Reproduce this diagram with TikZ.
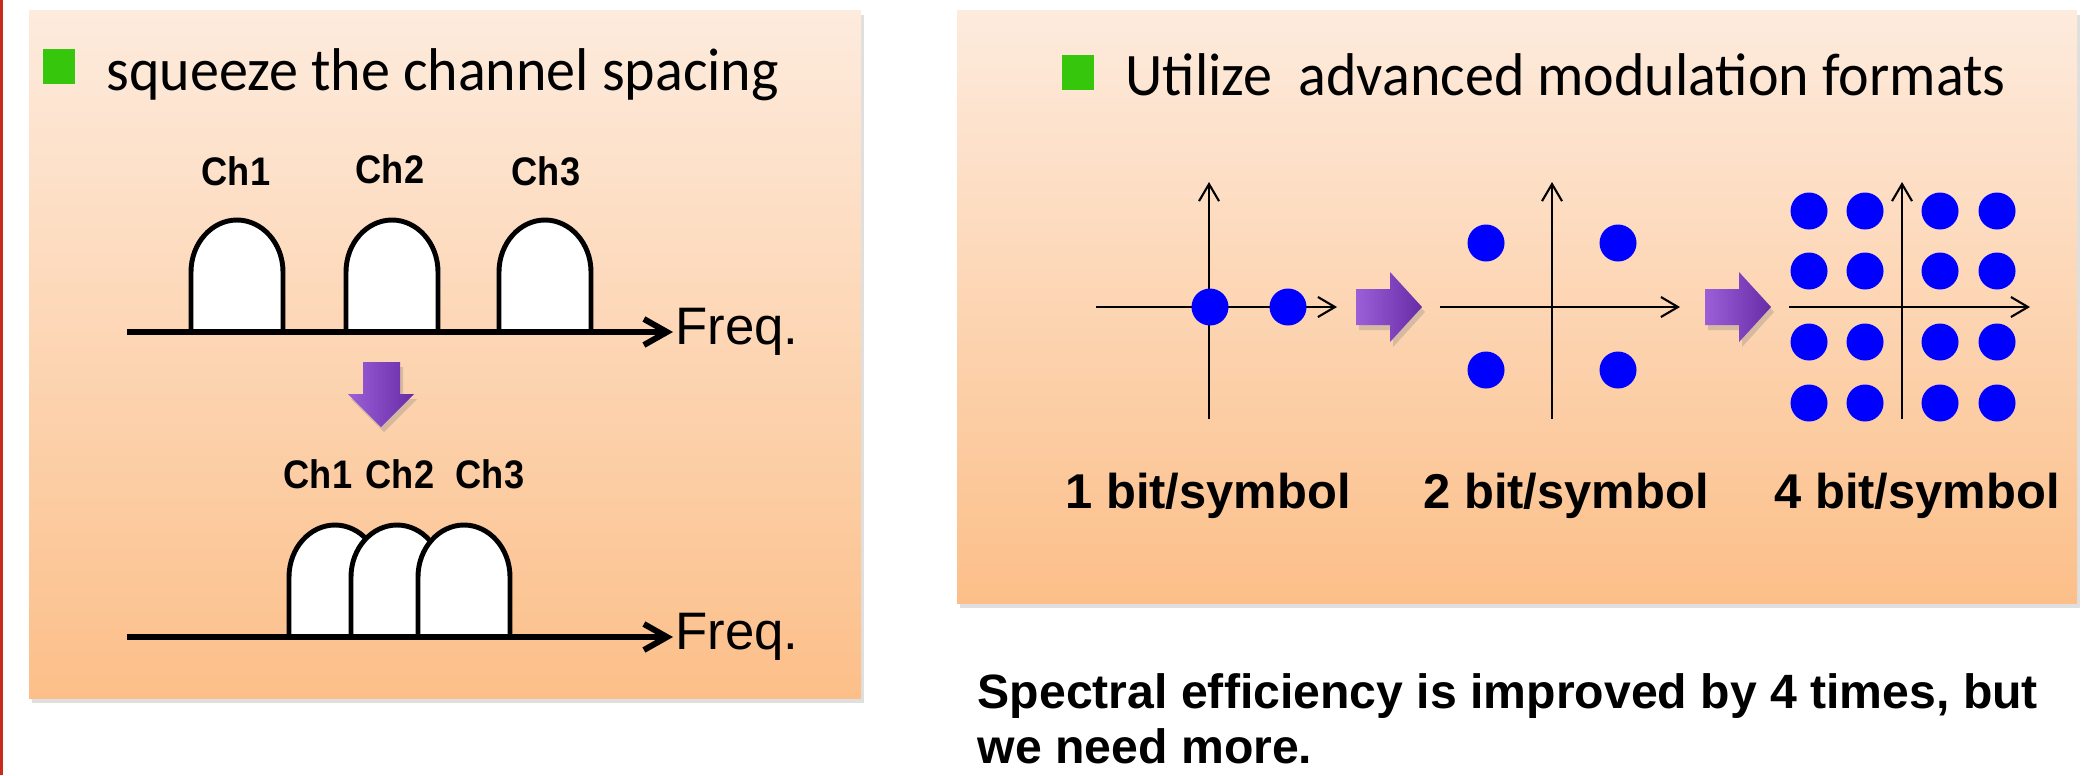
\documentclass[tikz,border=0pt]{standalone}
\usepackage{fontspec}
\setmainfont{Carlito}
\newfontfamily\arialfont{Liberation Sans}
\usetikzlibrary{positioning, arrows.meta, shadows}
\definecolor{panel_top}{HTML}{FDEBDD}
\definecolor{panel_bottom}{HTML}{FCBF89}
\definecolor{bullet_green}{HTML}{36C70C}
\definecolor{arrow_light}{HTML}{9C5FD8}
\definecolor{arrow_dark}{HTML}{662CA6}
\definecolor{edge_red}{HTML}{C92A1C}

% one channel spectrum: centre x, baseline y
\newcommand{\chanbump}[2]{%
  \filldraw[bump] (#1-46,#2) -- (#1-46,#2-60)
    .. controls (#1-46,#2-89) and (#1-25,#2-112) .. (#1,#2-112)
    .. controls (#1+25,#2-112) and (#1+46,#2-89) .. (#1+46,#2-60)
    -- (#1+46,#2);}

\begin{document}
\begin{tikzpicture}[
    x=0.01cm, y=-0.01cm,
    panel/.style={top color=panel_top, bottom color=panel_bottom,
                  drop shadow={shadow xshift=0.3mm, shadow yshift=-0.5mm,
                               opacity=0.25}},
    heading/.style={font=\fontsize{16.5}{20}\selectfont, anchor=base west,
                    inner sep=0pt, yscale=1.04},
    chlabel/.style={font=\arialfont\bfseries\fontsize{10.3}{12}\selectfont,
                    anchor=base, inner sep=0pt, yscale=1.1},
    freqlabel/.style={font=\arialfont\fontsize{15}{18}\selectfont,
                      inner sep=0pt},
    bitlabel/.style={font=\arialfont\bfseries\fontsize{13.9}{16}\selectfont,
                     anchor=base, inner sep=0pt},
    bump/.style={draw=black, fill=white, line width=1.4pt},
    freqaxis/.style={line width=1.7pt, -{Straight Barb[length=2.3mm, width=2.6mm]}},
    iqaxis/.style={line width=0.6pt, -{Straight Barb[length=1.7mm, width=2mm]}},
    sym/.style={fill=blue},
    bullet/.style={fill=bullet_green},
    fatarrow/.style={left color=arrow_light, right color=arrow_dark,
                     drop shadow={shadow xshift=0.3mm, shadow yshift=-0.5mm,
                                  opacity=0.3}}
]
\useasboundingbox (0,0) rectangle (2098,775);

% Red edge and the two panels
\fill[edge_red] (0,0) rectangle (2.5,775);
\shade[panel] (29,10) rectangle (861,698);
\shade[panel] (957,10) rectangle (2077,603);

% Left panel: channel spacing
\fill[bullet] (43,49) rectangle (75,84);
\node[heading] (title_left) at (106,90) {squeeze the channel spacing};

\chanbump{237}{332}
\chanbump{392}{332}
\chanbump{545}{332}
\coordinate (freq_top) at (673,332);
\draw[freqaxis] (127,332) -- (freq_top);
\node[freqlabel, right=0.5pt of freq_top] (freq_top_lbl) {Freq.};
\node[chlabel] (ch1_top) at (236,185) {Ch1};
\node[chlabel] (ch2_top) at (390,183) {Ch2};
\node[chlabel] (ch3_top) at (546,185) {Ch3};

\shade[fatarrow] (363,362) -- (400,362) -- (400,394) -- (414,394)
    -- (381,427) -- (348,394) -- (363,394) -- cycle;

\chanbump{335}{637}
\chanbump{397}{637}
\chanbump{464}{637}
\coordinate (freq_bot) at (673,637);
\draw[freqaxis] (127,637) -- (freq_bot);
\node[freqlabel, right=0.5pt of freq_bot] (freq_bot_lbl) {Freq.};
\node[chlabel] (ch1_bot) at (318,488) {Ch1};
\node[chlabel] (ch2_bot) at (400,488) {Ch2};
\node[chlabel] (ch3_bot) at (490,488) {Ch3};

% Right panel: modulation formats
\fill[bullet] (1062,55) rectangle (1094,90);
\node[heading] (title_right) at (1125,95) {Utilize\ \ advanced modulation formats};

% 1 bit/symbol
\draw[iqaxis] (1096,307) -- (1337,307);
\draw[iqaxis] (1209,419) -- (1209,182);
\foreach \x in {1210,1288}
  \fill[sym] (\x,307) circle[radius=18.5];

\shade[fatarrow] (1356,289) -- (1390,289) -- (1390,272) -- (1422,307)
    -- (1390,342) -- (1390,325) -- (1356,325) -- cycle;

% 2 bit/symbol
\draw[iqaxis] (1440,307) -- (1680,307);
\draw[iqaxis] (1552,419) -- (1552,182);
\foreach \x in {1486,1618}
  \foreach \y in {243,370}
    \fill[sym] (\x,\y) circle[radius=18.5];

\shade[fatarrow] (1705,289) -- (1739,289) -- (1739,272) -- (1771,307)
    -- (1739,342) -- (1739,325) -- (1705,325) -- cycle;

% 4 bit/symbol
\draw[iqaxis] (1789,307) -- (2030,307);
\draw[iqaxis] (1902,419) -- (1902,182);
\foreach \x in {1809,1865,1940,1997}
  \foreach \y in {211,271,342,403}
    \fill[sym] (\x,\y) circle[radius=18.5];

\node[bitlabel] (bit1) at (1208,508) {1 bit/symbol};
\node[bitlabel] (bit2) at (1566,508) {2 bit/symbol};
\node[bitlabel] (bit3) at (1917,508) {4 bit/symbol};

% Conclusion
\node[font=\arialfont\bfseries\fontsize{13.7}{15.6}\selectfont, anchor=base west,
      inner sep=0pt, align=left] (summary) at (977,763)
     {Spectral efficiency is improved by 4 times, but\\we need more.};

\end{tikzpicture}
\end{document}
